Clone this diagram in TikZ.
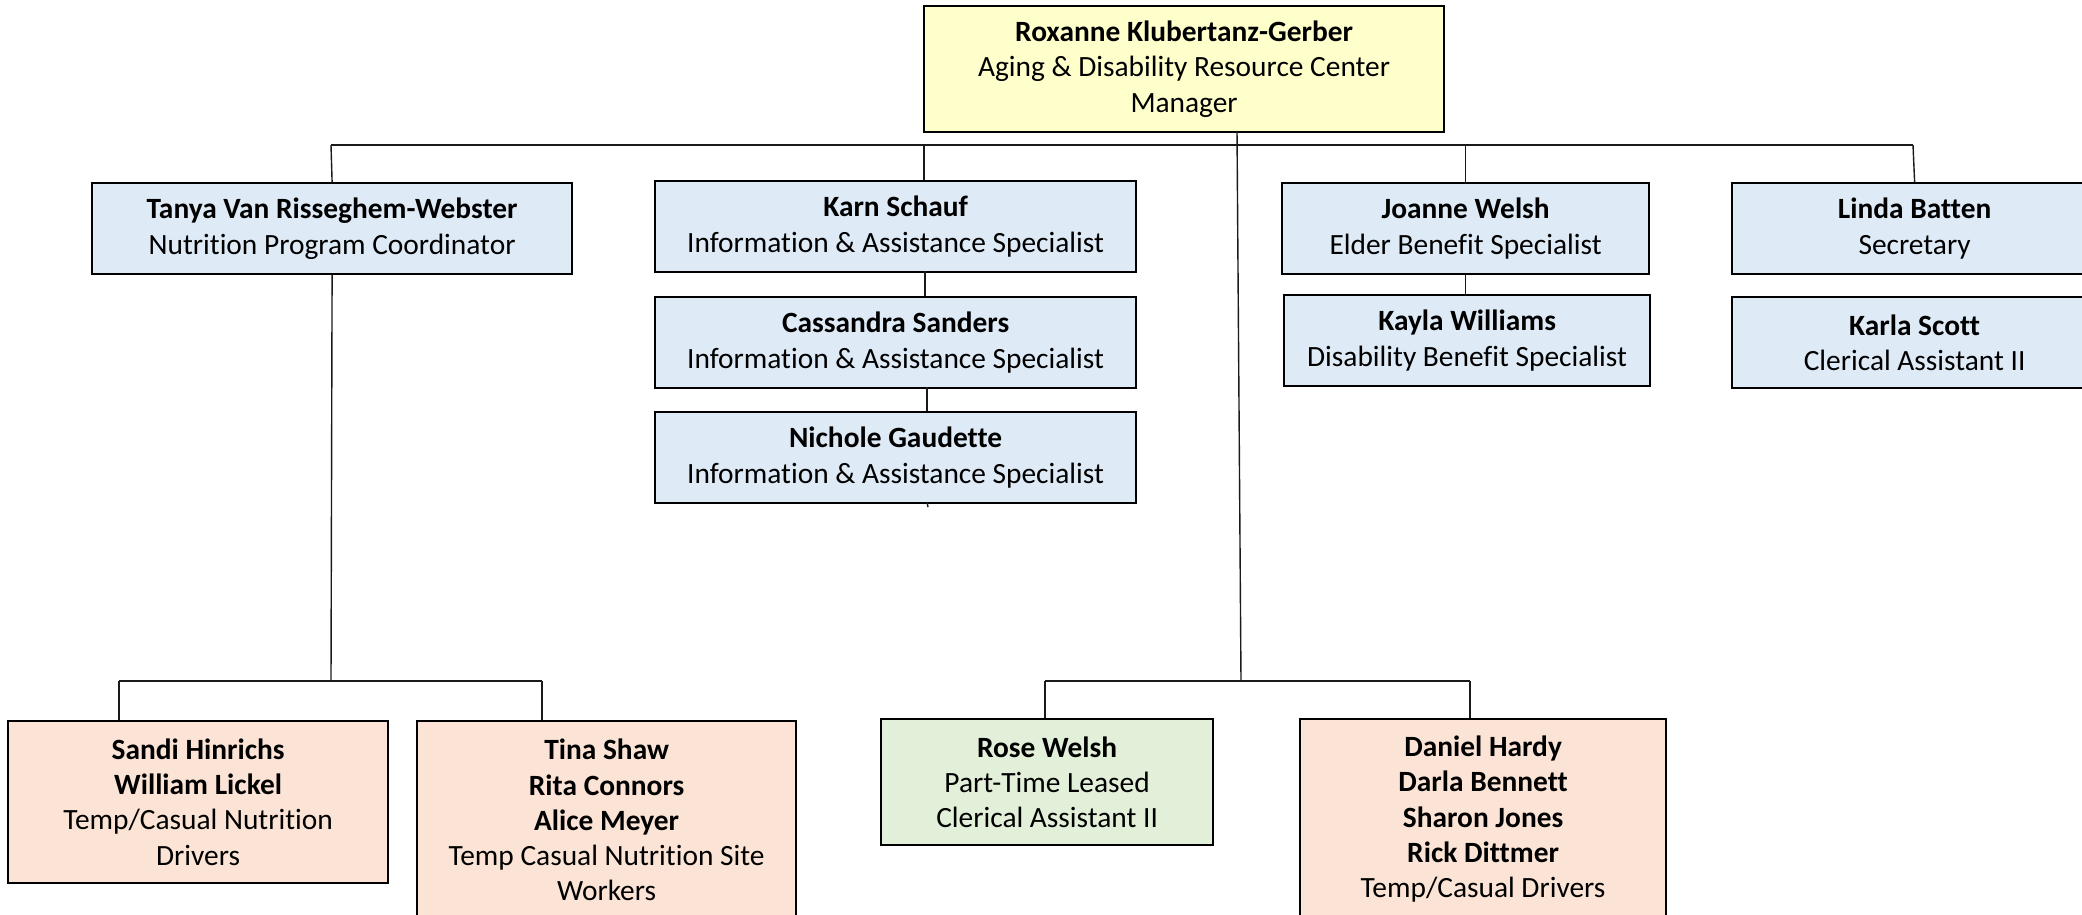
\documentclass[tikz,border=0pt]{standalone}
\usepackage{fontspec}
\setmainfont{Carlito}[Ligatures={NoCommon}]
\definecolor{yelf}{HTML}{FFFFCC}
\definecolor{bluef}{HTML}{DEEAF6}
\definecolor{peachf}{HTML}{FBE4D5}
\definecolor{greenf}{HTML}{E2EFD9}
\definecolor{linec}{HTML}{1A1A1A}
\tikzset{
  box/.style={draw=black, line width=2.2pt, inner sep=0pt, align=center,
    anchor=north west, font=\fontsize{29.4}{35.3}\selectfont},
  yelbox/.style={box, fill=yelf},
  bluebox/.style={box, fill=bluef},
  peachbox/.style={box, fill=peachf},
  greenbox/.style={box, fill=greenf},
  conn/.style={draw=linec, line width=1.4pt},
}
\newcommand{\bx}[7]{% style, name, x1, y1, x2, y2, text
  \node[#1, minimum width={(#5-#3)*1pt}, minimum height={(#6-#4)*1pt}] (#2) at (#3,#4) {#7};}
\begin{document}
\begin{tikzpicture}[x=1pt,y=-1pt]
\useasboundingbox (0,0) rectangle (2082,915);
% boxes
\bx{yelbox}{top}{923}{5}{1443}{131}{\textbf{Roxanne Klubertanz-Gerber}\\Aging \& Disability Resource Center\\Manager}
\bx{bluebox}{tanya}{91}{182}{571}{273}{\textbf{Tanya Van Risseghem-Webster}\\Nutrition Program Coordinator}
\bx{bluebox}{karn}{654}{180}{1135}{271}{\textbf{Karn Schauf}\\Information \& Assistance Specialist}
\bx{bluebox}{cass}{654}{296}{1135}{387}{\textbf{Cassandra Sanders}\\Information \& Assistance Specialist}
\bx{bluebox}{nich}{654}{411}{1135}{502}{\textbf{Nichole Gaudette}\\Information \& Assistance Specialist}
\bx{bluebox}{joanne}{1281}{182}{1648}{273}{\textbf{Joanne Welsh}\\Elder Benefit Specialist}
\bx{bluebox}{kayla}{1283}{294}{1649}{385}{\textbf{Kayla Williams}\\Disability Benefit Specialist}
\bx{bluebox}{linda}{1731}{182}{2096}{273}{\textbf{Linda Batten}\\Secretary}
\bx{bluebox}{karla}{1731}{296}{2096}{387}{\textbf{Karla Scott}\\Clerical Assistant II}
\bx{peachbox}{sandi}{7}{720}{387}{882}{\textbf{Sandi Hinrichs}\\\textbf{William Lickel}\\Temp/Casual Nutrition\\Drivers}
\bx{peachbox}{tina}{416}{720}{795}{918}{\textbf{Tina Shaw}\\\textbf{Rita Connors}\\\textbf{Alice Meyer}\\Temp Casual Nutrition Site\\Workers}
\bx{greenbox}{rose}{880}{718}{1212}{844}{\textbf{Rose Welsh}\\Part-Time Leased\\Clerical Assistant II}
\bx{peachbox}{daniel}{1299}{718}{1665}{918}{\textbf{Daniel Hardy}\\\textbf{Darla Bennett}\\\textbf{Sharon Jones}\\\textbf{Rick Dittmer}\\Temp/Casual Drivers}
% coordinates
\coordinate (busL) at (331,145);
\coordinate (busR) at (1913,145);
\coordinate (dKarn) at (924,145);
\coordinate (topDrop) at (1237,131);
\coordinate (midBot) at (1241,681);
\coordinate (bbL) at (1045,681);
\coordinate (bbR) at (1470,681);
\coordinate (tanyaBot) at (331,681);
\coordinate (lbL) at (119,681);
\coordinate (lbR) at (542,681);
\coordinate (kc1) at (925,271);
\coordinate (kc2) at (925,296);
\coordinate (cn1) at (927,387);
\coordinate (cn2) at (927,411);
\coordinate (ns1) at (927,502);
\coordinate (nichStub) at (928,507);
% connectors
\draw[conn] (busL) -- (busR);
\draw[conn] (busL) -- (tanya.north);
\draw[conn] (dKarn) -- (dKarn |- karn.north);
\draw[conn] (busR) -- (linda.north);
\draw[conn] (joanne.north |- busL) -- (joanne.north);
\draw[conn] (joanne.south) -- (kayla.north -| joanne.south);
\draw[conn] (kc1) -- (kc2);
\draw[conn] (cn1) -- (cn2);
\draw[conn] (ns1) -- (nichStub);
\draw[conn] (topDrop) -- (midBot);
\draw[conn] (bbL) -- (bbR);
\draw[conn] (bbL) -- (bbL |- rose.north);
\draw[conn] (bbR) -- (bbR |- daniel.north);
\draw[conn] (tanya.south) -- (tanyaBot);
\draw[conn] (lbL) -- (lbR);
\draw[conn] (lbL) -- (lbL |- sandi.north);
\draw[conn] (lbR) -- (lbR |- tina.north);
\end{tikzpicture}
\end{document}
